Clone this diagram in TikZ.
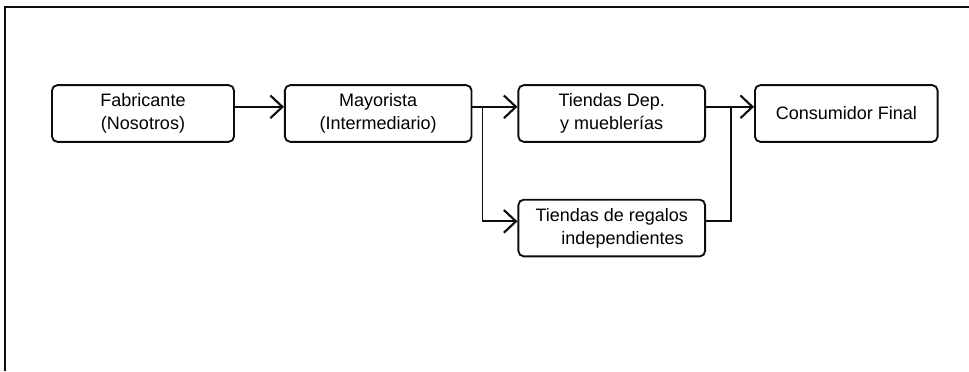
\documentclass[tikz,border=0pt]{standalone}
\usepackage{fontspec}
\setmainfont{Liberation Sans}
\usetikzlibrary{positioning,arrows.meta}
\definecolor{lineclr}{rgb}{0.05, 0.05, 0.05}
\tikzset{ %
  ,>={Straight Barb[length=9pt, width=17pt, line width=1.6pt]}
  ,every node/.style={font=\fontsize{13.5}{17.25}\selectfont}
  ,box/.style={draw=lineclr, line width=1.4pt, rounded corners=4pt, align=center, inner sep=2pt, minimum width=140pt, minimum height=42.5pt}
  ,link/.style={draw=lineclr, line width=1.3pt}
  ,frame/.style={draw=lineclr, line width=1.1pt}
}
\begin{document}
\begin{tikzpicture}[x=0.75pt, y=0.75pt]
      \useasboundingbox (0,0) rectangle (969,371);
      \draw[frame] (5,0) -- (5,364) -- (969,364);
      \draw
      node[box, minimum width=136.5pt] at (143,257.5) (fab) {Fabricante\\(Nosotros)}
      node[box, right=36.75pt of fab] (may) {Mayorista\\(Intermediario)}
      node[box, right=33.75pt of may] (tdep) {Tiendas Dep.\\y mueblerías}
      node[box, minimum width=137pt, right=36pt of tdep] (cons) {Consumidor Final}
      node[box, below=42pt of tdep] (treg) {Tiendas de regalos\\\hspace*{1.2em}independientes};
      \coordinate (split) at ([xshift=7.5pt, yshift=5pt]may.east);
      \coordinate (join) at ([xshift=18.75pt, yshift=5pt]tdep.east);
      \draw [link,->] ([yshift=5pt]fab.east) -- ([yshift=5pt]may.west);
      \draw [link,->] ([yshift=5pt]may.east) -- ([yshift=5pt]tdep.west);
      \draw [link,->] (split) |- ([yshift=5pt]treg.west);
      \draw [link] ([yshift=5pt]treg.east) -| (join);
      \draw [link,->] ([yshift=5pt]tdep.east) -- ([yshift=5pt]cons.west);
    \end{tikzpicture}
\end{document}
